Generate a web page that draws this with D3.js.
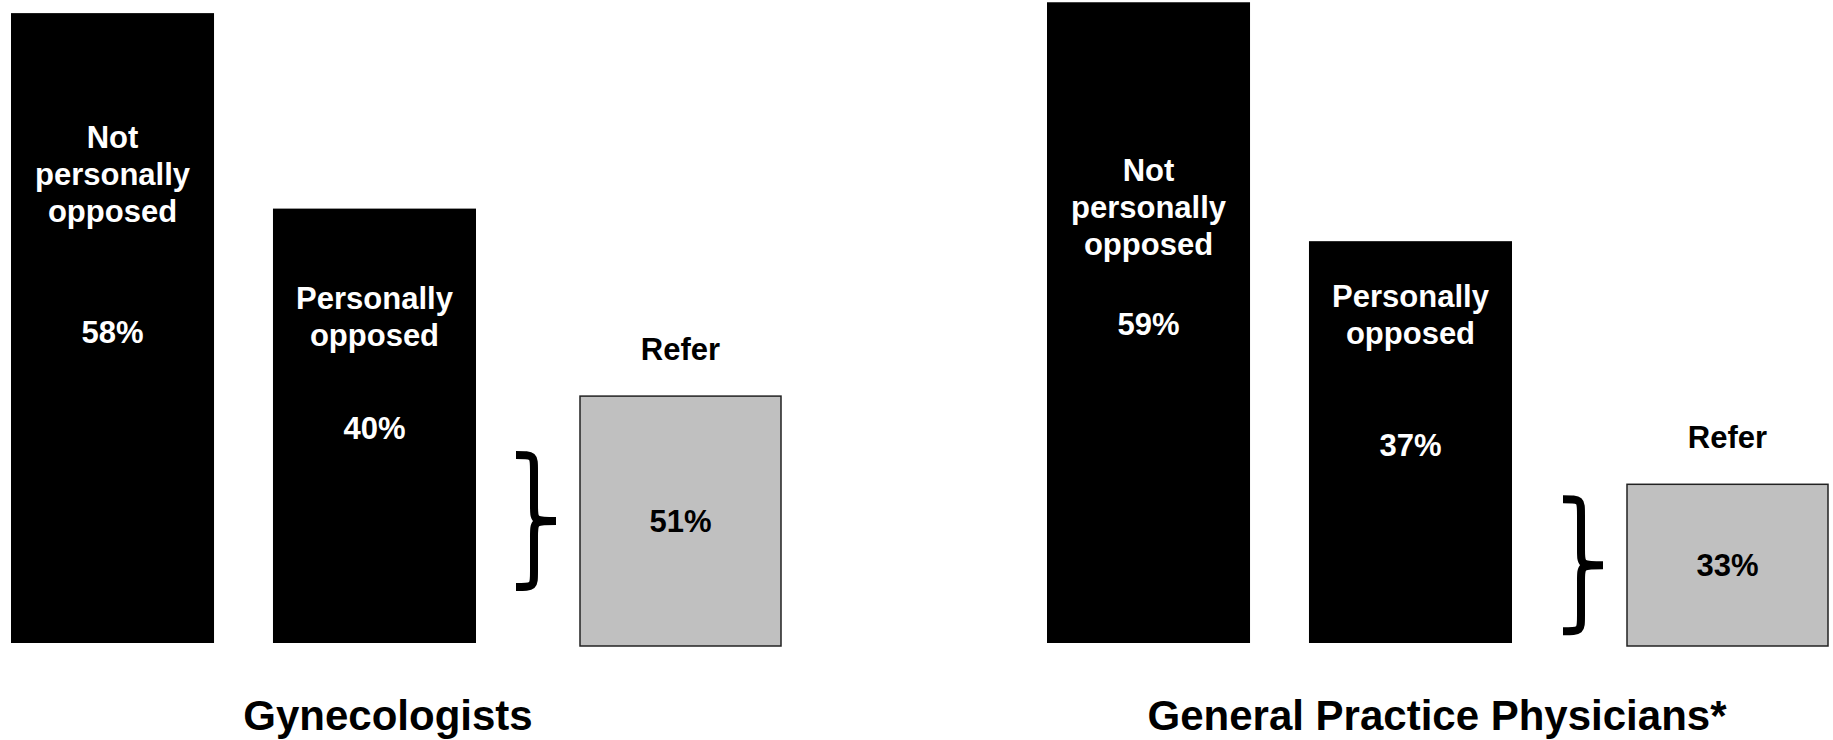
<!DOCTYPE html>
<html>
<head>
<meta charset="utf-8">
<script src="https://cdn.jsdelivr.net/npm/d3@7"></script>
<style>
  body { margin: 0; background: #fff; }
  text { font-family: "Liberation Sans", Arial, sans-serif; font-weight: bold; }
</style>
</head>
<body>
<div id="chart"></div>
<script>
// data
var panels = ["Gynecologists", "General Practice Physicians*"];
var categories = ["Not personally opposed", "Personally opposed"];
var notOpposed = [58, 59];
var opposed = [40, 37];
var refer = [51, 33];

// layout
var w = 1833, h = 740;
var baseline = 643;
var panelX = [11, 1047];
var referX = [569, 580];
var titleX = [388, 1437];
// label baselines per panel (multi-line category label, then value)
var catLabelY = [[148, 309], [181, 307]];
var valueLabelY = [[343, 439], [335, 456]];
var fs = 31, lineH = 37;

var svg = d3.select("#chart")
  .append("svg")
  .attr("width", w)
  .attr("height", h);

var x = d3.scaleBand()
  .domain(categories)
  .range([0, 465])
  .paddingInner(0.225)
  .paddingOuter(0);

var y = d3.scaleLinear().domain([0, 100]).range([baseline, baseline - 1086]);
var yRefer = d3.scaleLinear().domain([0, 100]).range([646, 646 - 490]);

function brace(x0, cy, bh, bw) {
  var top = cy - bh / 2, bot = cy + bh / 2;
  var xm = x0 + bw * 0.45, xr = x0 + bw, r = 16;
  return "M" + x0 + "," + top +
    "C" + xm + "," + top + " " + xm + "," + top + " " + xm + "," + (top + r) +
    "L" + xm + "," + (cy - r) +
    "C" + xm + "," + cy + " " + xm + "," + cy + " " + xr + "," + cy +
    "C" + xm + "," + cy + " " + xm + "," + cy + " " + xm + "," + (cy + r) +
    "L" + xm + "," + (bot - r) +
    "C" + xm + "," + bot + " " + xm + "," + bot + " " + x0 + "," + bot;
}

panels.forEach(function(name, p) {
  var g = svg.append("g").attr("transform", "translate(" + panelX[p] + ",0)");
  var vals = [notOpposed[p], opposed[p]];

  g.selectAll("rect.bar")
    .data(vals)
    .enter()
    .append("rect")
    .attr("class", "bar")
    .attr("x", function(d, i) { return x(categories[i]); })
    .attr("width", x.bandwidth())
    .attr("y", function(d) { return y(d); })
    .attr("height", function(d) { return baseline - y(d); })
    .attr("fill", "#000");

  // category labels inside bars
  var lines = [["Not", "personally", "opposed"], ["Personally", "opposed"]];
  lines.forEach(function(ls, i) {
    var t = g.append("text")
      .attr("x", x(categories[i]) + x.bandwidth() / 2)
      .attr("y", catLabelY[p][i])
      .attr("text-anchor", "middle")
      .attr("fill", "#fff")
      .attr("font-size", fs);
    ls.forEach(function(l, k) {
      t.append("tspan")
        .attr("x", x(categories[i]) + x.bandwidth() / 2)
        .attr("dy", k === 0 ? 0 : lineH)
        .text(l);
    });
  });

  g.selectAll("text.val")
    .data(vals)
    .enter()
    .append("text")
    .attr("class", "val")
    .attr("x", function(d, i) { return x(categories[i]) + x.bandwidth() / 2; })
    .attr("y", function(d, i) { return valueLabelY[p][i]; })
    .attr("text-anchor", "middle")
    .attr("fill", "#fff")
    .attr("font-size", fs)
    .text(function(d) { return d + "%"; });

  // refer box
  var rx = referX[p], rw = 201;
  var rTop = yRefer(refer[p]), rBot = yRefer(0);
  g.append("rect")
    .attr("x", rx)
    .attr("y", rTop)
    .attr("width", rw)
    .attr("height", rBot - rTop)
    .attr("fill", "#c0c0c0")
    .attr("stroke", "#222")
    .attr("stroke-width", 1.5);

  g.append("text")
    .attr("x", rx + rw / 2)
    .attr("y", rTop - 36)
    .attr("text-anchor", "middle")
    .attr("fill", "#000")
    .attr("font-size", fs)
    .text("Refer");

  g.append("text")
    .attr("x", rx + rw / 2)
    .attr("y", (rTop + rBot) / 2 + 11)
    .attr("text-anchor", "middle")
    .attr("fill", "#000")
    .attr("font-size", fs)
    .text(refer[p] + "%");

  g.append("path")
    .attr("d", brace(rx - 64, (rTop + rBot) / 2, 132, 40))
    .attr("fill", "none")
    .attr("stroke", "#000")
    .attr("stroke-width", 8);

  svg.append("text")
    .attr("x", titleX[p])
    .attr("y", 730)
    .attr("text-anchor", "middle")
    .attr("fill", "#000")
    .attr("font-size", 42)
    .text(name);
});
</script>
</body>
</html>
